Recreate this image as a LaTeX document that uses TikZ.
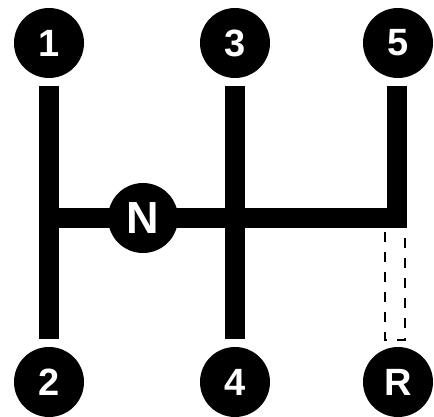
\documentclass[tikz,border=0pt]{standalone}
\usepackage{fontspec}
\setmainfont{Liberation Sans}
\begin{document}
\begin{tikzpicture}[x=1pt,y=-1pt,
  gear/.style={circle,fill=black,minimum size=70pt,inner sep=0pt,text=white,font=\fontsize{38}{40}\selectfont\bfseries},
  bar/.style={line width=20pt,line cap=butt,shorten <=8pt,shorten >=8pt},
  hbar/.style={line width=20pt,line cap=butt},
  rev/.style={line width=2pt,dash pattern=on 10pt off 10pt,dash phase=16pt}]
\useasboundingbox (0,0) rectangle (434,417);
\node[gear] (g1) at (49,43) {1};
\node[gear] (g3) at (235,43) {3};
\node[gear] (g5) at (398,43) {5};
\node[gear] (g2) at (49,382) {2};
\node[gear] (g4) at (235,382) {4};
\node[gear] (gR) at (398,382) {R};
\coordinate (hl) at (39,218);
\coordinate (hr) at (407,218);
\coordinate (c5) at (397,228);
\draw[bar] (g1) -- (g2);
\draw[bar] (g3) -- (g4);
\draw[bar,shorten >=0pt] (g5.south -| c5) -- (c5);
\draw[hbar] (hl) -- (hr);
\coordinate (r1) at (385,228);
\coordinate (r2) at (385,340);
\coordinate (r3) at (405,340);
\coordinate (r4) at (405,228);
\draw[rev] (r1) -- (r2) -- (r3) -- (r4);
\node[gear,font=\fontsize{45}{47}\selectfont\bfseries] (gN) at (143,218) {N};
\end{tikzpicture}
\end{document}
